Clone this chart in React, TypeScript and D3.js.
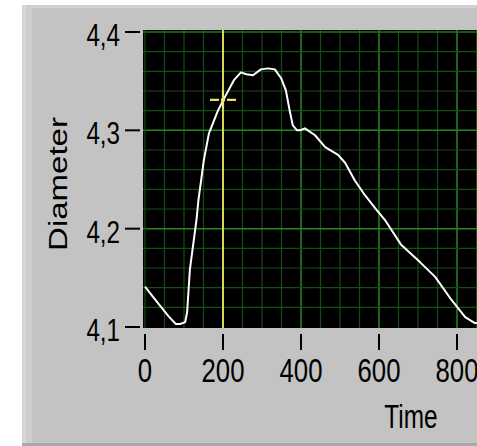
import React from "react";
import * as d3 from "d3";

const timeValues = [0, 20, 40, 60, 79, 90, 103, 108, 115, 124, 132, 137, 151, 164, 187, 205, 228, 246, 260, 277, 297, 315, 333, 349, 361, 371, 379, 390, 397, 410, 436, 462, 495, 513, 538, 564, 590, 615, 656, 705, 744, 785, 821, 846, 855];
const diameterValues = [4.141, 4.131, 4.121, 4.111, 4.103, 4.103, 4.105, 4.115, 4.158, 4.185, 4.209, 4.229, 4.27, 4.297, 4.32, 4.334, 4.351, 4.359, 4.357, 4.356, 4.362, 4.363, 4.362, 4.353, 4.341, 4.32, 4.305, 4.3, 4.3, 4.302, 4.295, 4.283, 4.275, 4.267, 4.249, 4.234, 4.221, 4.209, 4.184, 4.166, 4.151, 4.128, 4.11, 4.104, 4.104];
const xTicks = [0, 200, 400, 600, 800];
const yTicks = [4.1, 4.2, 4.3, 4.4];
const yTickLabels = ["4,1", "4,2", "4,3", "4,4"];
const cursorTime = 200;
const cursorDiameter = 4.331;

const W = 477;
const H = 446;
const FONT = "'Liberation Sans', Arial, sans-serif";
const SX = 0.78;

export default function App() {
  const x = d3.scaleLinear().domain([0, 850]).range([145, 476.5]);
  const y = d3.scaleLinear().domain([4.1, 4.4]).range([327, 32]);
  const plotLeft = 143;
  const plotRight = W;
  const plotTop = 30;
  const plotBottom = 328;

  const minorX = d3.range(50, 851, 50);
  const minorY = d3.range(4.12, 4.4, 0.02);

  const line = d3
    .line<number>()
    .x((_, i) => x(timeValues[i]))
    .y((d) => y(d));

  const cx = x(cursorTime);
  const cy = y(cursorDiameter);
  const minorColor = "#164c16";
  const majorColor = "#268526";

  return (
    <svg width={W} height={H} style={{ position: "absolute", left: 0, top: 0 }}>
      <rect x={0} y={0} width={W} height={H} fill="#ffffff" />
      <rect x={22} y={5} width={W - 22} height={H - 5} fill="#c3c3c3" />
      <rect x={22} y={5} width={W - 22} height={3} fill="#d2d2d2" />
      <rect x={22} y={5} width={10} height={H - 5} fill="#cdcdcd" />
      <rect x={22} y={5} width={4} height={H - 5} fill="#d6d6d6" />
      <rect x={22} y={443} width={W - 22} height={3} fill="#a8a8a8" />

      <rect x={plotLeft} y={plotTop} width={plotRight - plotLeft} height={plotBottom - plotTop} fill="#000" />
      <g>
        {minorX.map((v) => (
          <line
            key={"vx" + v}
            x1={x(v)}
            x2={x(v)}
            y1={plotTop}
            y2={plotBottom}
            stroke={v % 200 === 0 ? majorColor : minorColor}
            strokeWidth={v % 200 === 0 ? 1.5 : 1.2}
          />
        ))}
        {minorY.map((v) => {
          const major = Math.abs(v * 10 - Math.round(v * 10)) < 1e-6;
          return (
            <line
              key={"hy" + v.toFixed(2)}
              x1={plotLeft}
              x2={plotRight}
              y1={y(v)}
              y2={y(v)}
              stroke={major ? majorColor : minorColor}
              strokeWidth={major ? 1.5 : 1.2}
            />
          );
        })}
        <line x1={plotLeft} x2={plotRight} y1={y(4.4)} y2={y(4.4)} stroke={minorColor} strokeWidth={1.2} />
        <line x1={x(0)} x2={x(0)} y1={plotTop} y2={plotBottom} stroke={minorColor} strokeWidth={1.2} />
      </g>

      <line x1={cx} x2={cx} y1={plotTop} y2={plotBottom} stroke="#d8d858" strokeWidth={2} />
      <path d={line(diameterValues) || ""} fill="none" stroke="#ffffff" strokeWidth={2} strokeLinejoin="round" />
      <g stroke="#eaea66" strokeWidth={2.2}>
        <line x1={cx - 13} x2={cx - 4} y1={cy} y2={cy} />
        <line x1={cx + 4} x2={cx + 13} y1={cy} y2={cy} />
        <line x1={cx} x2={cx} y1={cy - 9} y2={cy - 3} />
        <line x1={cx} x2={cx} y1={cy + 3} y2={cy + 9} />
        <circle cx={cx} cy={cy} r={2.2} fill="#eaea66" stroke="none" />
      </g>

      {yTicks.map((v, i) => (
        <g key={"yt" + v}>
          <line x1={125} x2={140} y1={y(v)} y2={y(v)} stroke="#000" strokeWidth={2} />
          <text
            transform={`translate(120,${y(v) + 14}) scale(${SX},1)`}
            textAnchor="end"
            fontFamily={FONT}
            fontSize={31}
            fill="#000"
          >
            {yTickLabels[i]}
          </text>
        </g>
      ))}
      {xTicks.map((v) => (
        <g key={"xt" + v}>
          <line x1={x(v)} x2={x(v)} y1={334} y2={350} stroke="#000" strokeWidth={2} />
          <text
            transform={`translate(${x(v)},382) scale(${SX},1)`}
            textAnchor="middle"
            fontFamily={FONT}
            fontSize={33}
            fill="#000"
          >
            {String(v)}
          </text>
        </g>
      ))}
      <text
        transform={`translate(67,184) scale(${SX},1) rotate(-90)`}
        textAnchor="middle"
        fontFamily={FONT}
        fontSize={33}
        fill="#000"
      >
        Diameter
      </text>
      <text
        transform={`translate(411,428) scale(${SX * 0.92},1)`}
        textAnchor="middle"
        fontFamily={FONT}
        fontSize={34}
        fill="#000"
      >
        Time
      </text>
    </svg>
  );
}
